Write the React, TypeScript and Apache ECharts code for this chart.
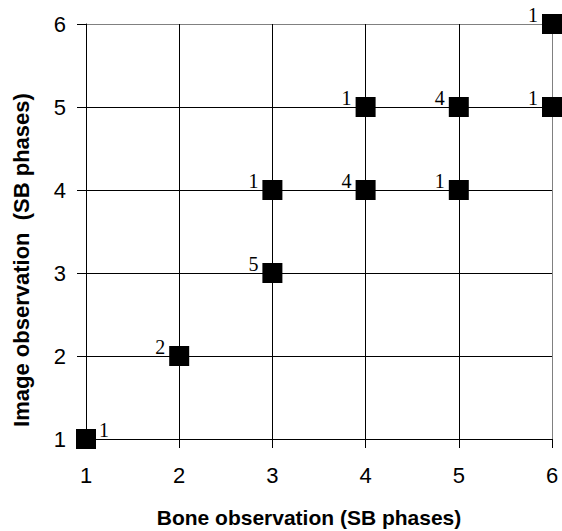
import React, { useEffect, useRef } from "react";
import * as echarts from "echarts";

const boneObs = [1, 2, 3, 3, 4, 4, 5, 5, 6, 6];
const imageObs = [1, 2, 3, 4, 4, 5, 4, 5, 5, 6];
const counts = [1, 2, 5, 1, 4, 1, 1, 4, 1, 1];
const tickValues = [1, 2, 3, 4, 5, 6];

const xTitle = "Bone observation (SB phases)";
const yTitle = "Image observation  (SB phases)";

export default function App() {
  const ref = useRef<HTMLDivElement>(null);
  useEffect(() => {
    if (!ref.current) return;
    const chart = echarts.init(ref.current, null, { renderer: "svg" });
    const data = boneObs.map((x, i) => {
      const first = i === 0;
      return {
        value: [x, imageObs[i], counts[i]],
        label: first
          ? { position: "right", distance: 3, offset: [0, -9] }
          : { position: "left", distance: 4, offset: [0, -9] },
      };
    });
    const splitColors = tickValues.map((_, i) =>
      i === tickValues.length - 1 ? "#808080" : "#000000"
    );
    const axisCommon = {
      type: "value",
      min: tickValues[0],
      max: tickValues[tickValues.length - 1],
      interval: 1,
      axisLine: { show: true, lineStyle: { color: "#000", width: 1 } },
      axisTick: { show: true, inside: false, length: 9, lineStyle: { color: "#000" } },
      splitLine: { show: true, lineStyle: { color: splitColors, width: 1 } },
    };
    const tickFont = {
      color: "#000",
      fontFamily: "'Liberation Sans', Arial, sans-serif",
      fontSize: 22,
    };
    chart.setOption({
      animation: false,
      backgroundColor: "#fff",
      grid: { left: 86, right: 10, top: 24, bottom: 92, containLabel: false },
      xAxis: { ...axisCommon, axisLabel: { ...tickFont, margin: 25 } },
      yAxis: { ...axisCommon, axisLabel: { ...tickFont, margin: 20 } },
      graphic: [
        {
          type: "text",
          x: 309,
          y: 517,
          style: {
            text: xTitle,
            fill: "#000",
            font: "bold 21px 'Liberation Sans', Arial, sans-serif",
            textAlign: "center",
            textVerticalAlign: "middle",
          },
        },
        {
          type: "text",
          x: 21,
          y: 260,
          rotation: Math.PI / 2,
          style: {
            text: yTitle,
            fill: "#000",
            font: "bold 22px 'Liberation Sans', Arial, sans-serif",
            textAlign: "center",
            textVerticalAlign: "middle",
          },
        },
      ],
      series: [
        {
          type: "scatter",
          clip: false,
          symbol: "rect",
          symbolSize: 20,
          itemStyle: { color: "#000", opacity: 1 },
          data,
          label: {
            show: true,
            formatter: (p: any) => String(p.value[2]),
            color: "#000",
            fontFamily: "'Liberation Serif', 'Times New Roman', serif",
            fontSize: 20,
          },
        },
      ],
    });
    return () => chart.dispose();
  }, []);
  return <div ref={ref} style={{ width: 562, height: 531, position: "absolute", left: 0, top: 0 }} />;
}
